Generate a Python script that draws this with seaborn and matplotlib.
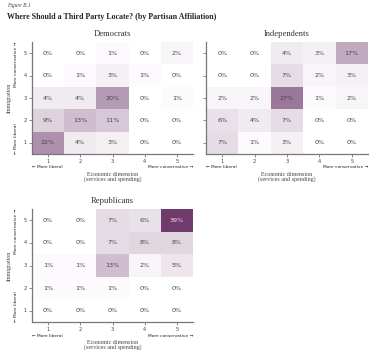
import numpy as np
import pandas as pd
import seaborn as sns
import matplotlib.pyplot as plt
from matplotlib.colors import LinearSegmentedColormap

sns.set_theme(style="white")
plt.rcParams['font.family'] = ['DejaVu Sans']

econ = [1, 2, 3, 4, 5]
immig = [5, 4, 3, 2, 1]  # top to bottom

# rows: immigration 5..1 ; columns: economic 1..5 (percent)
dem = [[0, 0, 1, 0, 2],
       [0, 1, 3, 1, 0],
       [4, 4, 20, 0, 1],
       [9, 13, 11, 0, 0],
       [22, 4, 3, 0, 0]]
ind = [[0, 0, 4, 3, 17],
       [0, 0, 7, 2, 3],
       [2, 2, 27, 1, 2],
       [6, 4, 7, 0, 0],
       [7, 1, 3, 0, 0]]
rep = [[0, 0, 7, 6, 39],
       [0, 0, 7, 8, 8],
       [1, 1, 13, 2, 5],
       [1, 1, 1, 0, 0],
       [0, 0, 0, 0, 0]]

panels = [("Democrats", dem), ("Independents", ind), ("Republicans", rep)]

cmap = LinearSegmentedColormap.from_list("pur", ["#ffffff", "#6f3b6d"])

fig = plt.figure(figsize=(3.8, 3.56), dpi=100)
W, H = 380, 356
def rect(l, t, r, b):
    return [l / W, 1 - b / H, (r - l) / W, (b - t) / H]

axes_pos = [rect(32, 42, 193, 154), rect(206, 42, 368, 154), rect(32, 209, 193, 322)]

serif = 'Liberation Serif'
fig.text(7 / W, 1 - 6 / H, "Figure B.1", fontsize=4.0, style='italic', family=serif,
         color='#444444', va='center', ha='left')
fig.text(7 / W, 1 - 17 / H, "Where Should a Third Party Locate? (by Partisan Affiliation)",
         fontsize=5.7, weight='bold', family=serif, color='#222222', va='center', ha='left')

for i, (name, vals) in enumerate(panels):
    ax = fig.add_axes(axes_pos[i])
    df = pd.DataFrame(vals, index=immig, columns=econ)
    labels = df.map(lambda v: f"{v}%")
    sns.heatmap(df, ax=ax, cmap=cmap, vmin=0, vmax=39, annot=labels, fmt="",
                cbar=False, linewidths=0,
                annot_kws={"fontsize": 4.6, "color": "#444444"})
    for t in ax.texts:
        if t.get_text() == "39%":
            t.set_color("#f0e0ee")
    ax.set_title(name, fontsize=6.2, family=serif, color='#333333', pad=4)
    for s in ['left', 'bottom']:
        ax.spines[s].set_visible(True)
        ax.spines[s].set_color('#777777')
        ax.spines[s].set_linewidth(0.9)
    ax.tick_params(axis='both', which='both', length=2, width=0.6, color='#777777',
                   labelsize=3.7, labelcolor='#444444', pad=1.5, left=True, bottom=True)
    ax.set_xticklabels(econ, rotation=0)
    ax.set_xlabel("Economic dimension\n(services and spending)", fontsize=4.3,
                  family=serif, color='#444444', labelpad=5.5, linespacing=1.0)
    ax.text(0.0, -0.12, "\u2190 More liberal", transform=ax.transAxes, fontsize=3.2,
            color='#222222', ha='left', va='center')
    ax.text(1.0, -0.12, "More conservative \u2192", transform=ax.transAxes, fontsize=3.2,
            color='#222222', ha='right', va='center')
    if i == 1:
        ax.set_yticklabels([])
        ax.set_ylabel("")
    else:
        ax.set_yticklabels(immig, rotation=0)
        ax.set_ylabel("Immigration", fontsize=4.3, family=serif, color='#444444', labelpad=9)
        ax.text(-0.1, 1.0, "More conservative \u2192", transform=ax.transAxes, fontsize=3.2,
                color='#222222', ha='center', va='top', rotation=90)
        ax.text(-0.1, 0.0, "\u2190 More liberal", transform=ax.transAxes, fontsize=3.2,
                color='#222222', ha='center', va='bottom', rotation=90)

fig.savefig("out.png", dpi=100, facecolor='white')
